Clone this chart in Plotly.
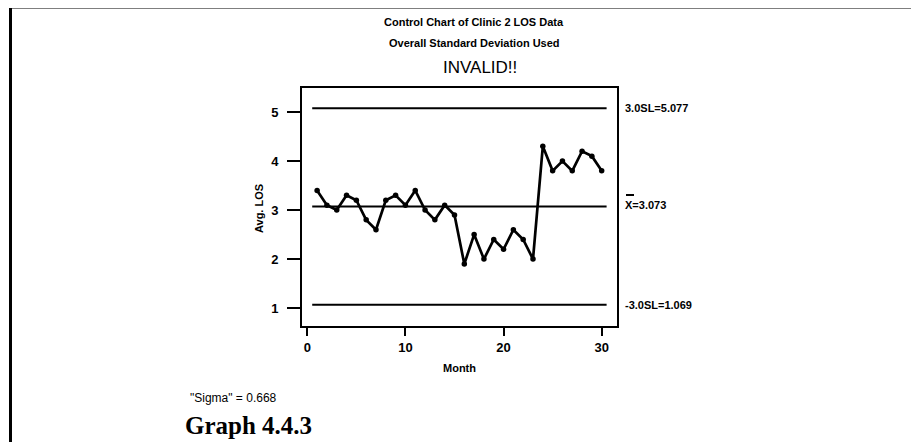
import plotly.graph_objects as go

# Clinic 2 LOS data, monthly averages
month = list(range(1, 31))
avg_los = [3.4, 3.1, 3.0, 3.3, 3.2, 2.8, 2.6, 3.2, 3.3, 3.1,
           3.4, 3.0, 2.8, 3.1, 2.9, 1.9, 2.5, 2.0, 2.4, 2.2,
           2.6, 2.4, 2.0, 4.3, 3.8, 4.0, 3.8, 4.2, 4.1, 3.8]

limit_span = [0.5, 30.5]
ucl = 5.077
center = 3.073
lcl = 1.069
sigma = 0.668

x_ticks = [0, 10, 20, 30]
y_ticks = [1, 2, 3, 4, 5]

W, H = 919, 442
OFF = 8                           # page body margin
L, R, T, B = 302, 617, 88, 326    # plot area in screen pixels


def px(x):
    return (x - L) / (R - L)


def py(y):
    return (B - y) / (B - T)


sans = 'Arial, Liberation Sans, sans-serif'

fig = go.Figure()

for level in (ucl, center, lcl):
    fig.add_trace(go.Scatter(
        x=limit_span, y=[level, level], mode='lines',
        line=dict(color='black', width=2), showlegend=False, hoverinfo='skip'
    ))

fig.add_trace(go.Scatter(
    x=month, y=avg_los, mode='lines+markers',
    line=dict(color='black', width=2.7),
    marker=dict(color='black', size=5.5),
    showlegend=False
))

ann = [
    # titles
    dict(text='Control Chart of Clinic 2 LOS Data', x=px(474), y=py(22),
         font=dict(size=11, family=sans, weight='bold')),
    dict(text='Overall Standard Deviation Used', x=px(474), y=py(43),
         font=dict(size=11, family=sans, weight='bold')),
    dict(text='INVALID!!', x=px(480), y=py(67),
         font=dict(size=17, family=sans)),
    # axis titles
    dict(text='Month', x=px(459), y=py(368),
         font=dict(size=11, family=sans, weight='bold')),
    dict(text='Avg. LOS', x=px(259), y=py(209), textangle=-90,
         font=dict(size=11, family=sans, weight='bold')),
    # footer
    dict(text=f'"Sigma" = {sigma:.3f}', x=px(233), y=py(398),
         font=dict(size=12, family=sans)),
    dict(text='Graph 4.4.3', x=px(248), y=py(425),
         font=dict(size=25, family='Liberation Serif, Times New Roman, serif', weight='bold')),
]
for a in ann:
    a.update(xref='paper', yref='paper', showarrow=False,
             xanchor='center', yanchor='middle')
    a['font']['color'] = 'black'
    fig.add_annotation(**a)

# control limit labels
for level, label, shift in [(ucl, f'3.0SL={ucl:.3f}', 0),
                            (center, f'X={center:.3f}', 1),
                            (lcl, f'-3.0SL={lcl:.3f}', 0)]:
    fig.add_annotation(text=label, xref='paper', yref='y', x=px(623), y=level,
                       xanchor='left', yanchor='middle', yshift=shift, showarrow=False,
                       font=dict(size=11, family=sans, weight='bold', color='black'))

# bar over the X
fig.add_shape(type='line', xref='paper', yref='paper',
              x0=px(626), x1=px(634), y0=py(195), y1=py(195),
              line=dict(color='black', width=2))

# page frame
fig.add_shape(type='rect', xref='paper', yref='paper',
              x0=px(10.5), x1=px(914.5), y0=py(470), y1=py(7),
              line=dict(color='black', width=3))

axis_font = dict(size=13, family=sans, weight='bold', color='black')
fig.update_xaxes(range=[-0.54, 31.56], tickvals=x_ticks, ticks='outside', ticklen=8,
                 tickwidth=2, tickcolor='black', showline=True, linecolor='black',
                 linewidth=2, mirror=True, showgrid=False, zeroline=False,
                 tickfont=axis_font, ticklabelstandoff=0)
fig.update_yaxes(range=[0.635, 5.49], tickvals=y_ticks, ticks='outside', ticklen=13,
                 tickwidth=2, tickcolor='black', showline=True, linecolor='black',
                 linewidth=2, mirror=True, showgrid=False, zeroline=False,
                 tickfont=axis_font, ticklabelstandoff=6)

fig.update_layout(
    width=W - OFF, height=H - OFF,
    margin=dict(l=L - OFF, r=W - R, t=T - OFF, b=H - B),
    paper_bgcolor='white', plot_bgcolor='white',
    showlegend=False,
)

fig.write_html('out.html')
